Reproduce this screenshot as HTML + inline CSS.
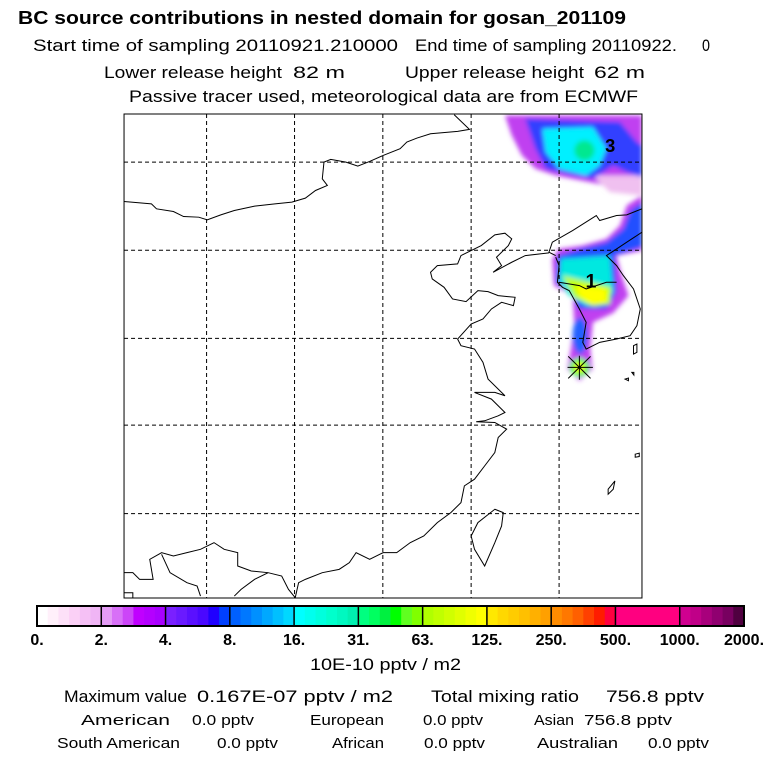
<!DOCTYPE html>
<html><head><meta charset="utf-8"><style>
body{margin:0;background:#fff;width:768px;height:768px;overflow:hidden;font-family:"Liberation Sans",sans-serif;}
svg{position:absolute;left:0;top:0}
</style></head><body>
<svg id="s" width="768" height="768" viewBox="0 0 768 768">
<defs><filter id="bl" x="-20%" y="-20%" width="140%" height="140%"><feGaussianBlur stdDeviation="7"/></filter>
<clipPath id="cp"><rect x="14" y="16" width="1531" height="1450"/></clipPath></defs>
<g font-family="Liberation Sans, sans-serif" fill="#000" lengthAdjust="spacingAndGlyphs">
<text x="18" y="24" font-size="18" font-weight="bold" textLength="608" lengthAdjust="spacingAndGlyphs">BC  source contributions in nested domain for gosan_201109</text>
<g font-size="17">
<text x="33" y="51" textLength="365" lengthAdjust="spacingAndGlyphs">Start time of sampling 20110921.210000</text>
<text x="415" y="51" textLength="262" lengthAdjust="spacingAndGlyphs">End time of sampling 20110922.</text>
<text x="702" y="51" textLength="8" lengthAdjust="spacingAndGlyphs">0</text></g>
<g font-size="17">
<text x="104" y="78" textLength="178" lengthAdjust="spacingAndGlyphs">Lower release height</text>
<text x="293" y="78" textLength="52" lengthAdjust="spacingAndGlyphs">82 m</text>
<text x="405" y="78" textLength="179" lengthAdjust="spacingAndGlyphs">Upper release height</text>
<text x="594" y="78" textLength="51" lengthAdjust="spacingAndGlyphs">62 m</text></g>
<text x="129" y="102" font-size="17" textLength="509" lengthAdjust="spacingAndGlyphs">Passive tracer used, meteorological data are from ECMWF</text>
<text x="310" y="670" font-size="17" textLength="151" lengthAdjust="spacingAndGlyphs">10E-10 pptv / m2</text>
<g font-size="17">
<text x="64" y="702" textLength="123" lengthAdjust="spacingAndGlyphs">Maximum value</text>
<text x="197" y="702" textLength="196" lengthAdjust="spacingAndGlyphs">0.167E-07 pptv / m2</text>
<text x="431" y="702" textLength="148" lengthAdjust="spacingAndGlyphs">Total mixing ratio</text>
<text x="606" y="702" textLength="98" lengthAdjust="spacingAndGlyphs">756.8 pptv</text></g>
<g font-size="15">
<text x="81" y="725" textLength="89" lengthAdjust="spacingAndGlyphs">American</text>
<text x="192" y="725" textLength="62" lengthAdjust="spacingAndGlyphs">0.0 pptv</text>
<text x="310" y="725" textLength="74" lengthAdjust="spacingAndGlyphs">European</text>
<text x="423" y="725" textLength="60" lengthAdjust="spacingAndGlyphs">0.0 pptv</text>
<text x="534" y="725" textLength="40" lengthAdjust="spacingAndGlyphs">Asian</text>
<text x="584" y="725" textLength="88" lengthAdjust="spacingAndGlyphs">756.8 pptv</text>
<text x="57" y="748" textLength="123" lengthAdjust="spacingAndGlyphs">South American</text>
<text x="217" y="748" textLength="61" lengthAdjust="spacingAndGlyphs">0.0 pptv</text>
<text x="332" y="748" textLength="52" lengthAdjust="spacingAndGlyphs">African</text>
<text x="424" y="748" textLength="61" lengthAdjust="spacingAndGlyphs">0.0 pptv</text>
<text x="537" y="748" textLength="81" lengthAdjust="spacingAndGlyphs">Australian</text>
<text x="648" y="748" textLength="61" lengthAdjust="spacingAndGlyphs">0.0 pptv</text>
</g></g>
<g transform="translate(119.3,108.7) scale(0.3383,0.3338)">
<g clip-path="url(#cp)" filter="url(#bl)">
<path fill="#c040f0" d="M1140,20 L1545,20 1545,250 1470,250 1440,230 1400,222 1350,212 1290,200 1230,180 1190,140 1160,80Z"/>
<path fill="#f0c0f0" d="M1400,200 1545,200 1545,260 1450,250Z"/>
<path fill="#3040ff" d="M1200,30 L1480,40 1530,100 1545,110 1545,205 1500,190 1460,170 1400,210 1340,200 1260,180 1230,120Z"/>
<path fill="#00f0ff" d="M1250,60 L1400,55 1440,120 1420,170 1380,200 1300,180 1260,130Z"/>
<circle cx="1375" cy="125" r="30" fill="#00e890"/>
<path fill="#c040f0" d="M1545,260 L1500,290 1480,350 1440,390 1370,410 1300,420 1280,450 1285,530 1340,560 1345,640 1335,720 1325,780 1360,815 1398,780 1392,720 1400,640 1460,612 1505,560 1485,500 1470,440 1545,425Z"/>
<path fill="#2050ff" d="M1545,280 L1510,305 1490,360 1440,400 1360,420 1295,440 1290,520 1345,560 1355,600 1440,600 1470,550 1465,440 1545,415Z"/>
<ellipse cx="1362" cy="680" rx="22" ry="55" fill="#2060ff"/>
<path fill="#00e8e0" d="M1305,450 L1450,440 1460,550 1420,590 1380,590 1330,560 1300,520Z"/>
<path fill="#c0ff00" d="M1310,500 L1390,520 1455,535 1450,585 1400,592 1345,565Z"/>
<path fill="#ffff00" d="M1350,530 L1440,540 1440,580 1395,585 1360,560Z"/>
<circle cx="1360" cy="775" r="28" fill="#60ff40"/>
<circle cx="1360" cy="775" r="14" fill="#ffff00"/>
</g>
<g fill="none" stroke="#000" stroke-width="1">
<path vector-effect="non-scaling-stroke" d="M14,278 L95,285 110,300 160,308 190,323 235,325 260,333 300,318 340,305 400,292 460,285 510,280 550,268 580,245 615,230 600,210 605,160 625,152 670,160 705,172 740,158 780,140 830,120 850,100 880,88 920,75 1000,68 1035,62 990,18"/>
<path vector-effect="non-scaling-stroke" d="M1290,440 L1270,430 1280,400 1340,365 1410,320 1420,335 1470,320 1500,318 1545,300"/>
<path vector-effect="non-scaling-stroke" d="M1270,432 L1200,440 1160,460 1105,490 1130,470 1115,445 1150,410 1160,390 1140,373 1110,378 1070,410 1040,425 1010,440 1000,465 940,470 920,490 925,510 960,535 985,570 1025,578 1060,545 1090,548 1120,560 1170,565 1165,590 1130,580 1100,600 1075,630 1040,645 1000,690 1010,710 1050,720 1075,760 1090,810 1140,860 1110,850 1050,850 1100,870 1140,910 1120,920 1080,935 1055,938 1110,940 1145,960 1120,985 1110,1030 1080,1070 1050,1110 1020,1130 1010,1180 980,1210 940,1240 900,1280 860,1300 820,1330 780,1330 740,1350 700,1330 680,1360 650,1380 600,1390 550,1410 530,1420 520,1465"/>
<path vector-effect="non-scaling-stroke" d="M1290,445 L1300,470 1295,520 1310,535 1330,545 1360,600 1380,640 1370,700 1380,720 1420,700 1470,690 1510,680 1530,650 1540,600 1520,540 1490,500 1470,470 1440,440 1470,420 1500,400 1545,370"/>
<path vector-effect="non-scaling-stroke" d="M1300,520 L1360,530 1380,540 1440,520 1470,520"/>
<path vector-effect="non-scaling-stroke" d="M1110,1200 L1135,1210 1130,1250 1110,1300 1080,1370 1050,1320 1040,1280 1060,1240Z"/>
<path vector-effect="non-scaling-stroke" d="M14,1390 L40,1390 60,1410 100,1410 90,1350 125,1330 160,1340 200,1330 240,1320 280,1300 310,1320 350,1330 350,1370 390,1385 440,1390 480,1400 500,1440 520,1465"/>
<path vector-effect="non-scaling-stroke" d="M125,1335 L150,1390 200,1420 230,1430 240,1460 M340,1460 L360,1440 400,1410 440,1390 M14,1450 L40,1450 40,1465"/>
<path vector-effect="non-scaling-stroke" d="M1520,710 l10,-5 0,25 -10,5z M1495,810 l10,-3 0,8z M1515,790 l6,0 0,8z M1525,1035 l12,-3 0,10 -12,2z M1445,1140 l20,-25 -5,25 -15,15z"/>
</g>
<g stroke="#000" stroke-width="1" stroke-dasharray="4,3" id="grid"></g>
<rect x="14" y="16" width="1531" height="1450" fill="none" stroke="#000" stroke-width="1" vector-effect="non-scaling-stroke"/>
<text x="1436" y="130" font-size="54" font-weight="bold" font-family="Liberation Sans, sans-serif">3</text>
<text x="1378" y="535" font-size="58" font-weight="bold" font-family="Liberation Sans, sans-serif">1</text>
<g stroke="#000" stroke-width="1">
<path vector-effect="non-scaling-stroke" d="M1325,775 L1400,775 M1360,740 L1360,812 M1327,742 L1393,808 M1327,808 L1393,742"/></g>
</g>
<g id="cbar"></g>
</svg>
<script>
const levels=["0.","2.","4.","8.","16.","31.","63.","125.","250.","500.","1000.","2000."];
const sectionColors=[
["#ffffff","#fff0fa","#fde0f8","#fbd0f6","#f5c0f5","#f0b5f5"],
["#e49cf5","#d870f7","#cc45f8","#c000ff","#b400ff","#a800ff"],
["#7a20ff","#6a1aff","#5a10ff","#4a08ff","#2000ff","#0040ff"],
["#0060ff","#0078ff","#0090ff","#00a8ff","#00c0ff","#00d8ff"],
["#00ffff","#00ffee","#00ffdd","#00ffcc","#00f8c0","#00f0b0"],
["#00ff80","#00ff60","#00f040","#00ff00","#60ff20","#80ff00"],
["#b0ff00","#c0ff00","#d0ff00","#e0ff00","#f0ff00","#ffff00"],
["#ffe800","#ffd800","#ffcc00","#ffc000","#ffb000","#ffa000"],
["#ff8c00","#ff7800","#ff6000","#ff4000","#ff1c00","#ff0040"],
["#ff0080","#ff0080","#ff0080","#ff0080","#ff0080","#ff0080"],
["#d00090","#c00088","#a8007c","#900070","#780060","#500040"]];
const gridX=[258,518,779,1040,1300];
const gridY=[160,424,688,948,1213];
const NS="http://www.w3.org/2000/svg";
const g=document.getElementById('grid');
gridX.forEach(x=>{const l=document.createElementNS(NS,'line');


l.setAttribute('x1',x);l.setAttribute('x2',x);l.setAttribute('y1',16);l.setAttribute('y2',1466);l.setAttribute('vector-effect','non-scaling-stroke');g.appendChild(l);});
gridY.forEach(y=>{const l=document.createElementNS(NS,'line');


l.setAttribute('y1',y);l.setAttribute('y2',y);l.setAttribute('x1',14);l.setAttribute('x2',1545);l.setAttribute('vector-effect','non-scaling-stroke');g.appendChild(l);});
const cb=document.getElementById('cbar');
const x0=37,x1=744,y0=606,h=20,n=sectionColors.length,sw=(x1-x0)/n;
sectionColors.forEach((cols,i)=>{cols.forEach((c,j)=>{const r=document.createElementNS(NS,'rect');


const w=sw/cols.length;r.setAttribute('x',x0+i*sw+j*w);r.setAttribute('y',y0);r.setAttribute('width',w+0.5);r.setAttribute('height',h);r.setAttribute('fill',c);cb.appendChild(r);});});
levels.forEach((t,i)=>{const x=x0+i*sw;
const l=document.createElementNS(NS,'line');


l.setAttribute('x1',x);l.setAttribute('x2',x);l.setAttribute('y1',y0);l.setAttribute('y2',y0+h);l.setAttribute('stroke','#000');l.setAttribute('stroke-width','1.5');cb.appendChild(l);
const tx=document.createElementNS(NS,'text');


tx.setAttribute('x',x);tx.setAttribute('y',645);tx.setAttribute('text-anchor','middle');tx.setAttribute('font-size','16');tx.setAttribute('font-weight','bold');tx.setAttribute('font-family','Liberation Sans, sans-serif');tx.textContent=t;cb.appendChild(tx);});
const fr=document.createElementNS(NS,'rect');


fr.setAttribute('x',x0);fr.setAttribute('y',y0);fr.setAttribute('width',x1-x0);fr.setAttribute('height',h);fr.setAttribute('fill','none');fr.setAttribute('stroke','#000');fr.setAttribute('stroke-width','2');cb.appendChild(fr);
</script>
</body></html>
